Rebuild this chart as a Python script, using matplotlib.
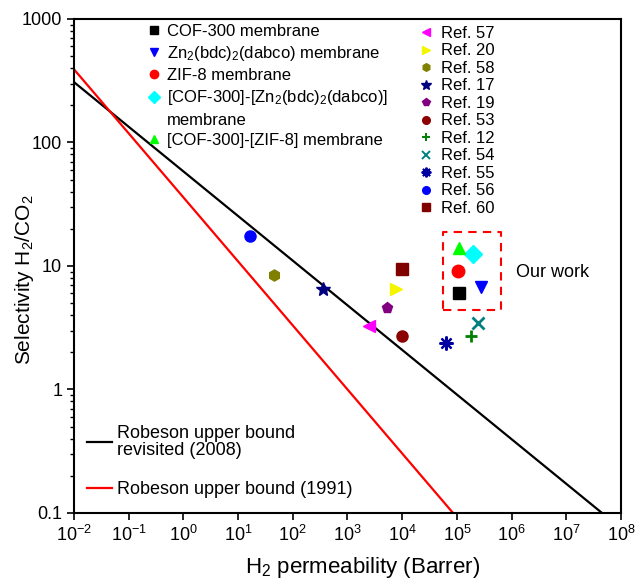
import matplotlib
matplotlib.use('Agg')
import matplotlib.pyplot as plt
from matplotlib.lines import Line2D

plt.rcParams['font.family'] = ['Liberation Sans', 'DejaVu Sans']
plt.rcParams['mathtext.default'] = 'regular'

# Robeson upper bounds (end points)
rob2008_x = [1e-2, 4.5e7]
rob2008_y = [308, 0.1]
rob1991_x = [1e-2, 8.5e4]
rob1991_y = [391, 0.1]

# Literature data: label, H2 permeability (Barrer), selectivity, marker, colour
ref_labels = ['Ref. 57', 'Ref. 20', 'Ref. 58', 'Ref. 17', 'Ref. 19', 'Ref. 53',
              'Ref. 12', 'Ref. 54', 'Ref. 55', 'Ref. 56', 'Ref. 60']
ref_perm = [2500, 7700, 46, 352, 5350, 9800, 181000, 240000, 62000, 16.6, 9800]
ref_sel = [3.26, 6.5, 8.4, 6.5, 4.6, 2.7, 2.7, 3.47, 2.39, 17.4, 9.4]
ref_markers = ['<', '>', 'h', '*', 'p', 'o', '+', 'x', (8, 2, 0), 'o', 's']
ref_colors = ['#ff00ff', '#f5f500', '#808000', '#000080', '#800080', '#8b0000',
              '#008000', '#008080', '#0000a0', '#0000ff', '#800000']

# This work
our_labels = ['COF-300 membrane', 'Zn$_2$(bdc)$_2$(dabco) membrane', 'ZIF-8 membrane',
              '[COF-300]-[Zn$_2$(bdc)$_2$(dabco)]', '[COF-300]-[ZIF-8] membrane']
our_perm = [110000, 280000, 106000, 200000, 108000]
our_sel = [6.07, 6.75, 9.1, 12.6, 14.0]
our_markers = ['s', 'v', 'o', 'D', '^']
our_colors = ['black', '#0000ff', '#ff0000', '#00ffff', '#00ff00']

box_x = [5.5e4, 6.3e5]
box_y = [4.37, 18.8]

fig = plt.figure(figsize=(6.39, 5.82), dpi=100)
ax = fig.add_axes([0.1158, 0.1186, 0.856, 0.8488])

l08, = ax.plot(rob2008_x, rob2008_y, color='black', lw=1.6)
l91, = ax.plot(rob1991_x, rob1991_y, color='red', lw=1.6)

ref_handles = []
for lab, x, y, m, c in zip(ref_labels, ref_perm, ref_sel, ref_markers, ref_colors):
    ms = 10 if m in ['*', (8, 2, 0)] else 8
    lw = 2.0 if m in ['+', 'x'] else (1.6 if m == (8, 2, 0) else 1)
    ax.plot([x], [y], linestyle='none', marker=m, color=c, markersize=ms,
            markeredgewidth=lw)
    ref_handles.append(Line2D([], [], linestyle='none', marker=m, color=c,
                              markersize=7 if m in ['*', (8, 2, 0)] else 5.5,
                              markeredgewidth=1.4 if lw > 1.5 else 1))

our_handles = []
for x, y, m, c in zip(our_perm, our_sel, our_markers, our_colors):
    ax.plot([x], [y], linestyle='none', marker=m, color=c, markersize=9)
    our_handles.append(Line2D([], [], linestyle='none', marker=m, color=c, markersize=6))

# dashed box around our work
ax.plot([box_x[0], box_x[1], box_x[1], box_x[0], box_x[0]],
        [box_y[0], box_y[0], box_y[1], box_y[1], box_y[0]],
        color='red', lw=1.5, linestyle=(0, (4, 3)))
ax.text(1.2e6, 8.9, 'Our work', fontsize=13, ha='left', va='center')

ax.set_xscale('log')
ax.set_yscale('log')
ax.set_xlim(1e-2, 1e8)
ax.set_ylim(0.1, 1000)
ax.set_yticks([0.1, 1, 10, 100, 1000])
ax.set_yticklabels(['0.1', '1', '10', '100', '1000'])
ax.set_xticks([10.0**k for k in range(-2, 9)])
ax.set_xticklabels(['10$^{%d}$' % k for k in range(-2, 9)])
ax.tick_params(which='major', direction='out', length=5, width=1.2, labelsize=13)
ax.tick_params(which='minor', direction='out', length=3, width=1)
for s in ax.spines.values():
    s.set_linewidth(1.5)
ax.set_xlabel('H$_2$ permeability (Barrer)', fontsize=16)
ax.xaxis.set_label_coords(0.527, -0.085)
ax.set_ylabel('Selectivity H$_2$/CO$_2$', fontsize=15)
ax.yaxis.set_label_coords(-0.07, 0.472)

# legends
blank = Line2D([], [], linestyle='none')
h1 = our_handles[:4] + [blank] + our_handles[4:]
t1 = our_labels[:4] + ['membrane'] + our_labels[4:]
leg1 = ax.legend(h1, t1, loc='upper left', bbox_to_anchor=(0.1335, 0.99),
                 frameon=False, fontsize=12, handlelength=0.8, handletextpad=0.4,
                 labelspacing=0.31, borderpad=0, borderaxespad=0)
ax.add_artist(leg1)

leg2 = ax.legend(ref_handles, ref_labels, loc='upper left', bbox_to_anchor=(0.632, 0.986),
                 frameon=False, fontsize=12, handlelength=0.8, handletextpad=0.5,
                 labelspacing=0.15, borderpad=0, borderaxespad=0)
ax.add_artist(leg2)

leg3 = ax.legend([l08, l91], ['Robeson upper bound\nrevisited (2008)', 'Robeson upper bound (1991)'],
                 loc='lower left', bbox_to_anchor=(0.024, 0.03), frameon=False, fontsize=13,
                 handlelength=1.4, handletextpad=0.28, labelspacing=1.2, borderpad=0,
                 borderaxespad=0)
for t in leg3.get_texts():
    t.set_linespacing(1.05)

fig.savefig('out.png', dpi=100)
